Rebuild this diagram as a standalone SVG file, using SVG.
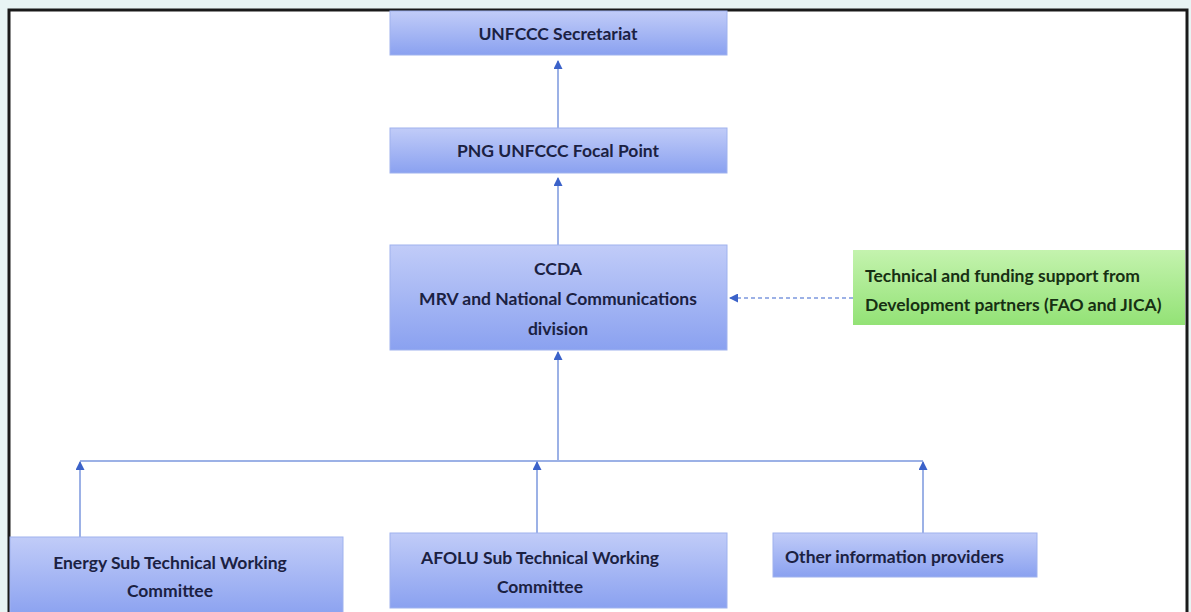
<svg xmlns="http://www.w3.org/2000/svg" width="1191" height="612" viewBox="0 0 1191 612">
<defs>
<linearGradient id="blue" x1="0" y1="0" x2="0" y2="1">
<stop offset="0" stop-color="#c1ccf8"/>
<stop offset="1" stop-color="#8aa1f0"/>
</linearGradient>
<linearGradient id="green" x1="0" y1="0" x2="0" y2="1">
<stop offset="0" stop-color="#c4f3ae"/>
<stop offset="1" stop-color="#93e276"/>
</linearGradient>
<marker id="arr" markerWidth="9" markerHeight="9" refX="8" refY="4.5" orient="auto" markerUnits="userSpaceOnUse">
<path d="M0,0 L9,4.5 L0,9 Z" fill="#3b62c9"/>
</marker>
</defs>
<style>
.box{fill:url(#blue);stroke:#9fb2ee;stroke-width:1}
.gbox{fill:url(#green);stroke:none}
.t{font-family:Lato,"Open Sans","Liberation Sans",sans-serif;font-weight:bold;font-size:17.5px;fill:#1b2142}
.g{font-family:Lato,"Open Sans","Liberation Sans",sans-serif;font-weight:bold;font-size:17.5px;fill:#173013}
.c{text-anchor:middle}
.ln{stroke:#9cb1e6;stroke-width:2;fill:none}
.dl{stroke:#9cb1e6;stroke-width:2;fill:none;stroke-dasharray:4 3}
</style>
<rect x="0" y="0" width="1191" height="612" fill="#e8f4f4"/>
<rect x="9" y="10" width="1178" height="610" fill="#ffffff" stroke="#1a1a1a" stroke-width="3"/>
<g id="connectors">
<line class="ln" x1="558" y1="128" x2="558" y2="61" marker-end="url(#arr)"/>
<line class="ln" x1="558" y1="245" x2="558" y2="178" marker-end="url(#arr)"/>
<line class="ln" x1="558" y1="461" x2="558" y2="352" marker-end="url(#arr)"/>
<line class="ln" x1="80" y1="461" x2="923" y2="461"/>
<line class="ln" x1="80" y1="537" x2="80" y2="462" marker-end="url(#arr)"/>
<line class="ln" x1="537" y1="533" x2="537" y2="462" marker-end="url(#arr)"/>
<line class="ln" x1="923" y1="533" x2="923" y2="462" marker-end="url(#arr)"/>
<line class="dl" x1="853" y1="298" x2="730" y2="298" marker-end="url(#arr)"/>
</g>
<g id="secretariat">
<rect class="box" x="390" y="11" width="337" height="44"/>
<text class="t c" x="558" y="40">UNFCCC Secretariat</text>
</g>
<g id="focal-point">
<rect class="box" x="390" y="128" width="337" height="45"/>
<text class="t c" x="558" y="157">PNG UNFCCC Focal Point</text>
</g>
<g id="ccda">
<rect class="box" x="390" y="245" width="337" height="105"/>
<text class="t c" x="558" y="275">CCDA</text>
<text class="t c" x="558" y="305">MRV and National Communications</text>
<text class="t c" x="558" y="335">division</text>
</g>
<g id="partners">
<rect class="gbox" x="853" y="250" width="332" height="75"/>
<text class="g" x="865" y="282">Technical and funding support from</text>
<text class="g" x="865" y="311">Development  partners (FAO and JICA)</text>
</g>
<g id="energy">
<rect class="box" x="10" y="537" width="333" height="80"/>
<text class="t c" x="170" y="569">Energy Sub Technical Working</text>
<text class="t c" x="170" y="597">Committee</text>
</g>
<g id="afolu">
<rect class="box" x="390" y="533" width="337" height="75"/>
<text class="t c" x="540" y="564">AFOLU Sub Technical Working</text>
<text class="t c" x="540" y="593">Committee</text>
</g>
<g id="other">
<rect class="box" x="773" y="533" width="264" height="44"/>
<text class="t" x="785" y="563">Other information providers</text>
</g>
</svg>
